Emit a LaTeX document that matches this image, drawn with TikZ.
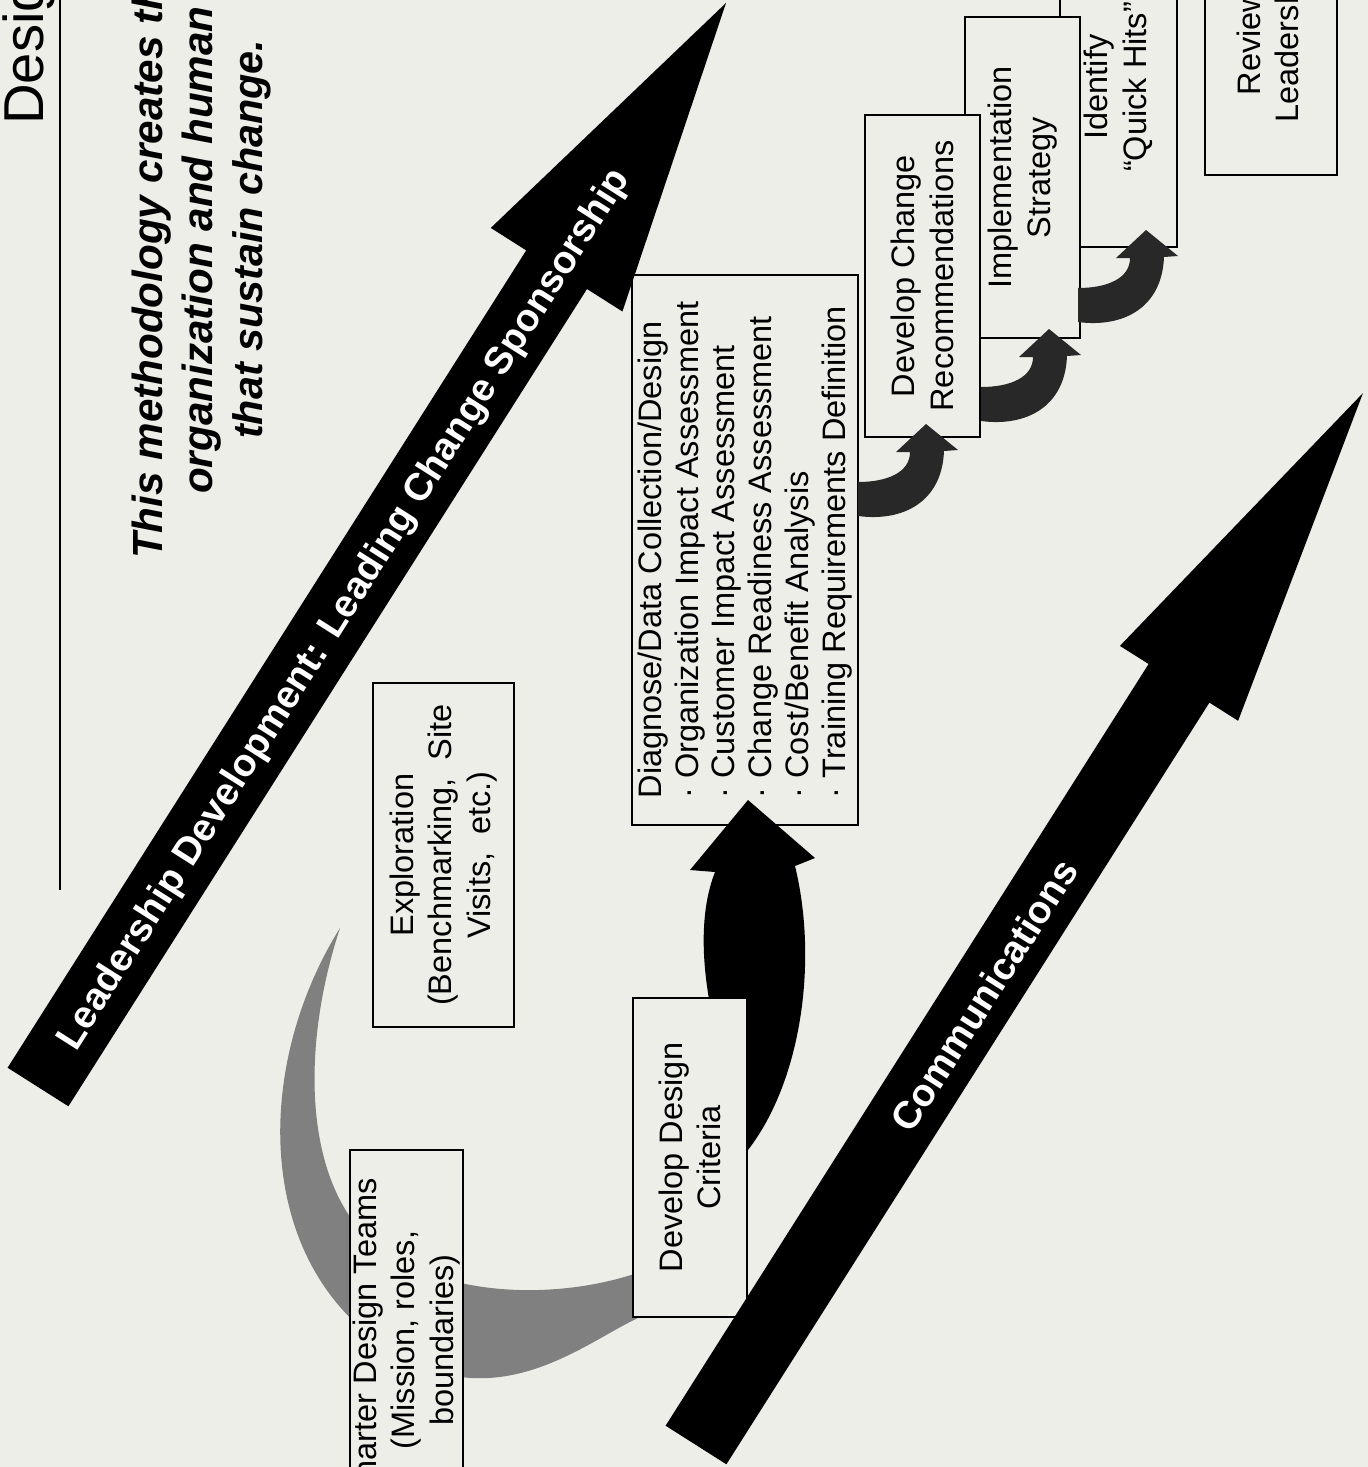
\documentclass[tikz,border=0pt]{standalone}
\usepackage{fontspec}
\setmainfont{Liberation Sans}
\definecolor{paper}{RGB}{238,238,233}
\definecolor{hatch}{RGB}{40,40,40}

\begin{document}
\begin{tikzpicture}[x=0.02cm,y=-0.02cm,
    box/.style={draw,line width=1.6pt,fill=paper,rotate=90,align=center,inner sep=0pt,
                font=\fontsize{18.5}{22}\selectfont},
    bigtext/.style={text=white,font=\fontsize{22}{26}\selectfont\bfseries,rotate=57.6},
    uturn/.pic={\fill[hatch] (0,0) -- (0,34) .. controls (45,40) and (84,20) .. (86,-31)
                -- (100,-32) -- (68,-58) -- (38,-30) -- (52,-30) .. controls (52,-10) and (30,0) .. (0,0) -- cycle;}]
    \useasboundingbox (0,0) rectangle (1368,1467);
    \clip (0,0) rectangle (1368,1467);
    \fill[paper] (0,0) rectangle (1368,1467);

    % heading
    \node[rotate=90,anchor=base west,font=\fontsize{32}{36}\selectfont] (title) at (43,131) {Design};
    \draw[line width=0.8pt] (60,0) -- (60,890);
    \node[rotate=90,anchor=base west,font=\fontsize{24}{28}\selectfont\bfseries\itshape] (sub1) at (162,565) {This methodology creates th};
    \node[rotate=90,anchor=base west,font=\fontsize{24}{28}\selectfont\bfseries\itshape] (sub2) at (212,500) {organization and human};
    \node[rotate=90,anchor=base west,font=\fontsize{23.5}{28}\selectfont\bfseries\itshape] (sub3) at (262,445) {that sustain change.};

    % grey swoosh behind the first boxes
    \fill[black!50] (340,928) .. controls (245,1080) and (255,1300) .. (430,1370)
        .. controls (520,1400) and (590,1340) .. (640,1317) -- (640,1272)
        .. controls (560,1300) and (440,1300) .. (370,1240)
        .. controls (305,1180) and (300,1050) .. (340,928) -- cycle;

    \node[box,minimum width=7.6cm,minimum height=2.26cm] (charter) at (406.5,1340)
        {Charter Design Teams\\(Mission, roles,\\boundaries)};
    \node[box,minimum width=6.88cm,minimum height=2.82cm] (explore) at (443.5,855)
        {Exploration\\(Benchmarking,\ \ Site\\Visits,\ \ etc.)};
    \node[box,align=left,minimum width=11cm,minimum height=4.52cm,font=\fontsize{18.5}{21}\selectfont] (diagnose) at (745,550)
        {Diagnose/Data Collection/Design\\
         · Organization Impact Assessment\\
         · Customer Impact Assessment\\
         · Change Readiness Assessment\\
         · Cost/Benefit Analysis\\
         · Training Requirements Definition};

    % black curved arrow into the diagnose box
    \fill[black] (710,1005) .. controls (700,950) and (702,905) .. (715,872) -- (690,870)
        -- (748,800) -- (815,858) -- (795,866) .. controls (818,960) and (802,1080) .. (748,1150) -- cycle;

    \node[box,minimum width=6.38cm,minimum height=2.28cm] (criteria) at (690,1157.5)
        {Develop Design\\Criteria};

    % staircase of boxes
    \node[box,minimum width=5.32cm,minimum height=2.64cm] (review) at (1271,42)
        {Review\\Leadership};
    \node[box,minimum width=6.4cm,minimum height=2.34cm] (quick) at (1118.5,87)
        {Identify\\``Quick Hits''};
    \node[box,minimum width=6.42cm,minimum height=2.3cm] (strategy) at (1022.5,177.5)
        {Implementation\\Strategy};
    \node[box,minimum width=6.44cm,minimum height=2.3cm] (recommend) at (922.5,276)
        {Develop Change\\Recommendations};

    \pic at (858,482) {uturn};
    \pic at (981,387) {uturn};
    \pic at (1078,288) {uturn};

    % the two long arrows
    \fill[black] (7.6,1067.7) -- (526.2,250.4) -- (490.8,227.9) -- (726,3) -- (622.4,311.5)
        -- (587,289) -- (68.4,1106.3) -- cycle;
    \node[bigtext] (lead) at (345,610) {Leadership Development: Leading Change Sponsorship};
    \fill[black] (665.6,1425.7) -- (1148.6,664) -- (1119.9,645.9) -- (1363,393) -- (1238.1,720.8)
        -- (1209.4,702.6) -- (726.4,1464.3) -- cycle;
    \node[bigtext] (comm) at (984,995) {Communications};
\end{tikzpicture}
\end{document}
